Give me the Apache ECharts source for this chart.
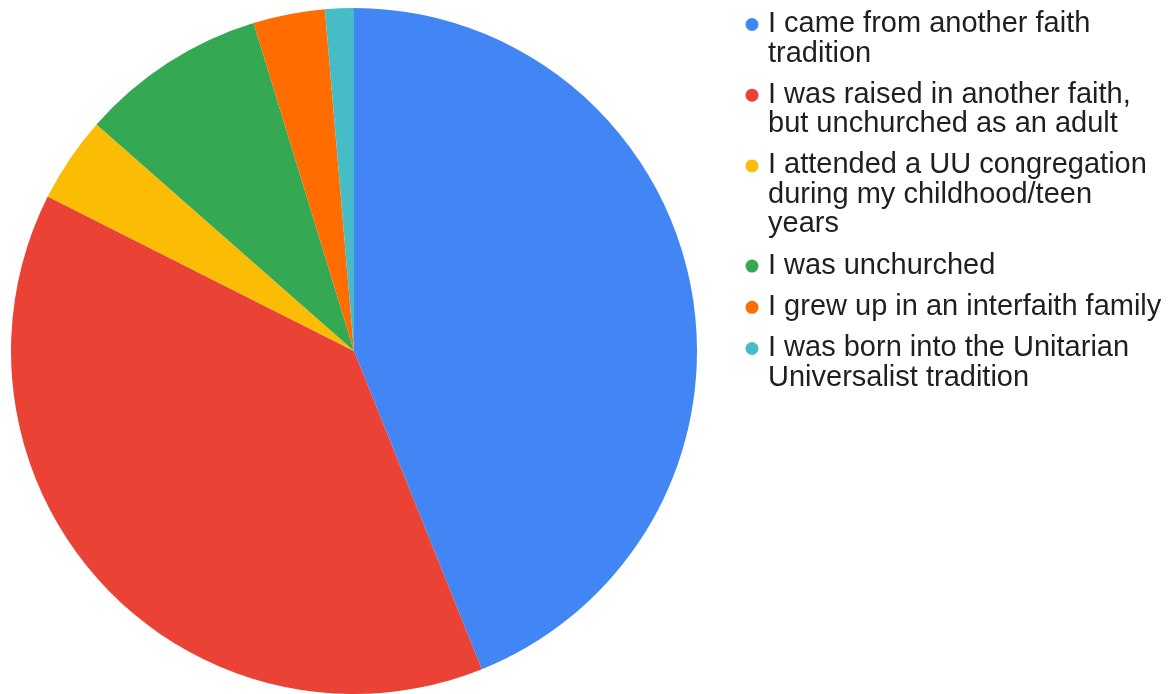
<!DOCTYPE html>
<html>
<head>
<meta charset="utf-8">
<script src="https://cdn.jsdelivr.net/npm/echarts@6/dist/echarts.min.js"></script>
<style>
  html, body { margin: 0; padding: 0; background: #fff; }
  #chart { width: 1169px; height: 694px; }
</style>
</head>
<body>
<div id="chart"></div>
<script>
// Survey answers: how respondents came to Unitarian Universalism
const categories = [
  'I came from another faith\ntradition',
  'I was raised in another faith,\nbut unchurched as an adult',
  'I attended a UU congregation\nduring my childhood/teen\nyears',
  'I was unchurched',
  'I grew up in an interfaith family',
  'I was born into the Unitarian\nUniversalist tradition'
];
const counts = [65, 57, 6, 13, 5, 2];
const colors = ['#4285f4', '#ea4335', '#fbbc04', '#34a853', '#ff6d01', '#46bdc6'];

const chart = echarts.init(document.getElementById('chart'), null, { renderer: 'canvas' });

// Legend drawn as graphic items so the dot sits beside the first line of wrapped labels
const lineH = 29.5;
const itemGap = 11.7;
const legendX = 752;
const legendItems = [];
let y = 24;
categories.forEach((name, i) => {
  const lines = name.split('\n').length;
  legendItems.push({
    type: 'circle',
    shape: { cx: legendX, cy: y + 0.5, r: 6.5 },
    style: { fill: colors[i] },
    silent: true
  });
  legendItems.push({
    type: 'text',
    x: legendX + 16,
    y: y - lineH / 2,
    style: {
      text: name,
      fill: '#1f1f1f',
      fontFamily: '"Liberation Sans", Arial, sans-serif',
      fontSize: 29,
      lineHeight: lineH,
      verticalAlign: 'top'
    },
    silent: true
  });
  y += lines * lineH + itemGap;
});

chart.setOption({
  animation: false,
  color: colors,
  graphic: legendItems,
  series: [{
    type: 'pie',
    center: [354, 351],
    radius: 343,
    startAngle: 90,
    clockwise: true,
    label: { show: false },
    labelLine: { show: false },
    itemStyle: { borderWidth: 0 },
    emphasis: { disabled: true },
    data: categories.map((c, i) => ({ name: c, value: counts[i] }))
  }]
});
</script>
</body>
</html>
